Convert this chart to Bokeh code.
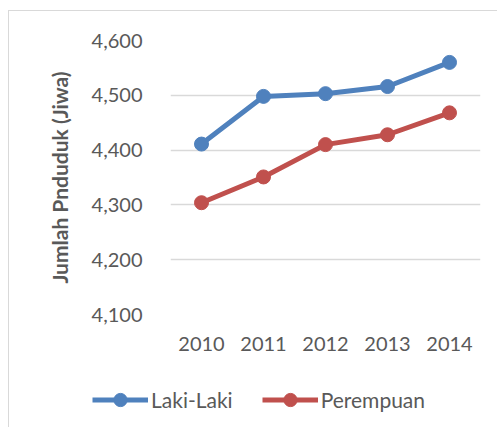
from bokeh.plotting import figure
from bokeh.layouts import column, row
from bokeh.models import (FactorRange, Range1d, FixedTicker, NumeralTickFormatter,
                          Legend, LegendItem)
from bokeh.embed import file_html
from bokeh.resources import INLINE

years = ["2010", "2011", "2012", "2013", "2014"]
laki = [4411, 4498, 4503, 4516, 4560]
perempuan = [4304, 4351, 4410, 4428, 4468]
y_ticks = [4100, 4200, 4300, 4400, 4500, 4600]
series_names = ["Laki-Laki", "Perempuan"]

FONT = "Lato"
TXT = "#595959"
BLUE = "#4f81bd"
RED = "#c0504d"
W = 488

# ---- main chart ----
p = figure(x_range=FactorRange(factors=years), y_range=Range1d(y_ticks[0], y_ticks[-1]),
           width=W, height=358, output_backend="svg", toolbar_location=None,
           min_border_left=161, min_border_right=17, min_border_top=29, min_border_bottom=55)
p.outline_line_color = None
p.border_fill_color = "white"

p.line(years, laki, line_width=5, color=BLUE)
p.scatter(years, laki, size=14, color=BLUE)
p.line(years, perempuan, line_width=5, color=RED)
p.scatter(years, perempuan, size=14, color=RED)

p.xgrid.grid_line_color = None
p.ygrid.grid_line_color = "#d9d9d9"
p.ygrid.grid_line_width = 1.3

p.yaxis.ticker = FixedTicker(ticks=y_ticks)
p.yaxis.formatter = NumeralTickFormatter(format="0,0")
for ax in (p.xaxis[0], p.yaxis[0]):
    ax.axis_line_color = None
    ax.major_tick_line_color = None
    ax.minor_tick_line_color = None
    ax.major_tick_out = 0
    ax.major_tick_in = 0
    ax.major_label_text_font = FONT
    ax.major_label_text_font_size = "20px"
    ax.major_label_text_color = TXT
p.yaxis.major_label_standoff = 28
p.xaxis.major_label_standoff = 22
p.yaxis.axis_label = "Jumlah Pnduduk (Jiwa)"
p.yaxis.axis_label_text_font = FONT
p.yaxis.axis_label_text_font_style = "bold"
p.yaxis.axis_label_text_font_size = "21px"
p.yaxis.axis_label_text_color = TXT
p.yaxis.axis_label_standoff = 17

# ---- legend strip (same series, data outside its view, only the legend shows) ----
lf = figure(x_range=FactorRange(factors=years), y_range=Range1d(0, 1), width=W, height=58,
            output_backend="svg", toolbar_location=None,
            x_axis_location=None, y_axis_location=None,
            min_border_left=0, min_border_right=0, min_border_top=0, min_border_bottom=0)
lf.outline_line_color = None
lf.xgrid.grid_line_color = None
lf.ygrid.grid_line_color = None
g1 = lf.line(years, laki, line_width=5, color=BLUE)
m1 = lf.scatter(years, laki, size=14, color=BLUE)
g2 = lf.line(years, perempuan, line_width=5, color=RED)
m2 = lf.scatter(years, perempuan, size=14, color=RED)

legend = Legend(items=[LegendItem(label=series_names[0], renderers=[g1, m1]),
                       LegendItem(label=series_names[1], renderers=[g2, m2])],
                orientation="horizontal", location=(83, 11),
                glyph_width=56, glyph_height=33, label_standoff=3, spacing=29,
                padding=0, margin=0, border_line_alpha=0, background_fill_alpha=0,
                label_text_font=FONT, label_text_font_size="21px", label_text_color=TXT)
lf.add_layout(legend)

layout = column(p, row(lf, spacing=0), spacing=0, margin=(10, 0, 0, 8),
                styles={"border-left": "1px solid #d9d9d9",
                        "border-top": "1px solid #d9d9d9"})

open("out.html", "w").write(file_html(layout, INLINE))
